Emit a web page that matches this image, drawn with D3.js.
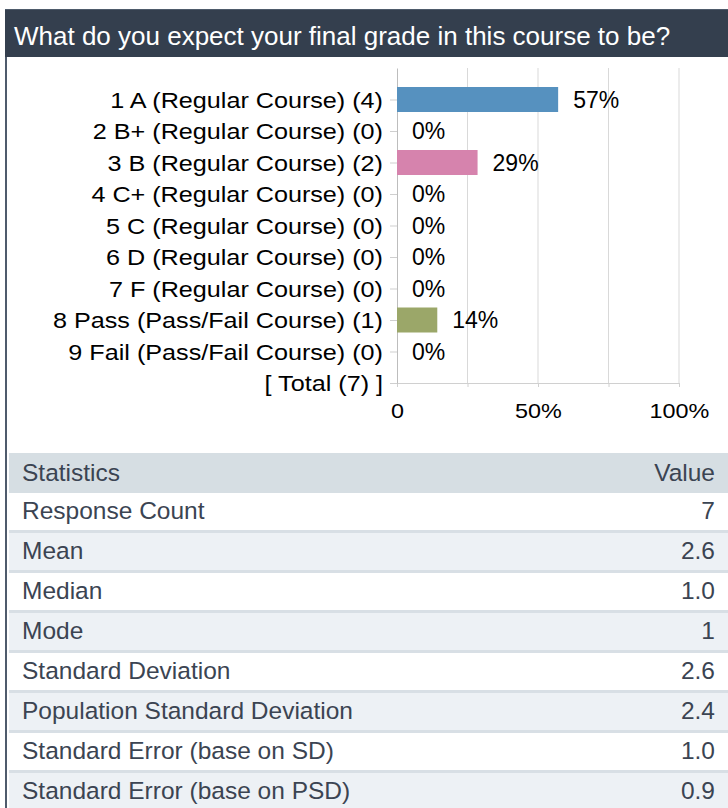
<!DOCTYPE html>
<html>
<head>
<meta charset="utf-8">
<script src="https://d3js.org/d3.v7.min.js"></script>
<style>
  body { margin: 0; background: #fff; }
  svg text { font-family: "Liberation Sans", Arial, sans-serif; }
</style>
</head>
<body>
<svg id="chart" width="728" height="808"></svg>
<script>
  var title = "What do you expect your final grade in this course to be?";

  var categories = [
    "1 A (Regular Course) (4)",
    "2 B+ (Regular Course) (0)",
    "3 B (Regular Course) (2)",
    "4 C+ (Regular Course) (0)",
    "5 C (Regular Course) (0)",
    "6 D (Regular Course) (0)",
    "7 F (Regular Course) (0)",
    "8 Pass (Pass/Fail Course) (1)",
    "9 Fail (Pass/Fail Course) (0)"
  ];
  var counts = [4, 0, 2, 0, 0, 0, 0, 1, 0];
  var totalLabel = "[ Total (7) ]";
  var barColors = ["#5691bf", "#e8a45c", "#d683ad", "#8c7bb8", "#6fb59a", "#c96b5e", "#c9b458", "#9ba769", "#7f8c99"];

  var gridValues = [0, 0.25, 0.5, 0.75, 1];
  var tickLabels = {0: "0", 0.5: "50%", 1: "100%"};

  var statNames = ["Response Count", "Mean", "Median", "Mode", "Standard Deviation",
    "Population Standard Deviation", "Standard Error (base on SD)", "Standard Error (base on PSD)"];
  var statValues = ["7", "2.6", "1.0", "1", "2.6", "2.4", "1.0", "0.9"];

  var svg = d3.select("#chart");
  var total = d3.sum(counts);

  // header band
  svg.append("rect").attr("x", 5).attr("y", 9).attr("width", 723).attr("height", 1).attr("fill", "#4e5b6b");
  svg.append("rect").attr("x", 5).attr("y", 10).attr("width", 723).attr("height", 47).attr("fill", "#343f4e");
  svg.append("text").attr("x", 14).attr("y", 45)
    .attr("fill", "#fff").style("font-size", "26px")
    .text(title);

  // left border
  svg.append("rect").attr("x", 5).attr("y", 57).attr("width", 2).attr("height", 751).attr("fill", "#4f5b6c");

  // scales
  var x = d3.scaleLinear().domain([0, 1]).range([397, 679]);
  var y = d3.scalePoint()
    .domain([""].concat(categories, [totalLabel]))
    .range([68, 383]);

  // gridlines
  svg.append("g").selectAll("line")
    .data(gridValues.slice(1))
    .enter().append("line")
    .attr("x1", function(d) { return x(d); })
    .attr("x2", function(d) { return x(d); })
    .attr("y1", 68).attr("y2", 383)
    .attr("stroke", "#d9d9d9");

  // bottom axis
  var xAxis = svg.append("g")
    .attr("transform", "translate(0,383)")
    .call(d3.axisBottom(x).tickValues(gridValues).tickSize(4).tickSizeOuter(0).tickPadding(17)
      .tickFormat(function(d) { return tickLabels[d] || ""; }));
  xAxis.select(".domain").attr("stroke", "#d0d0d0");
  xAxis.selectAll(".tick line").attr("stroke", "#d0d0d0");
  xAxis.selectAll(".tick text")
    .attr("fill", "#000").style("font-size", "20px")
    .attr("transform", "scale(1.17,1)");

  // left axis
  var yAxis = svg.append("g")
    .attr("transform", "translate(397,0)")
    .call(d3.axisLeft(y).tickValues(categories.concat([totalLabel])).tickSize(7).tickSizeOuter(0));
  yAxis.select(".domain").attr("stroke", "#bdbdbd");
  yAxis.selectAll(".tick line").attr("stroke", "#cfcfcf");
  yAxis.selectAll(".tick text")
    .attr("x", 0).attr("dy", "0.35em")
    .attr("fill", "#000").style("font-size", "22px")
    .attr("transform", "translate(-14,0) scale(1.145,1)");

  // bars
  svg.append("g").selectAll("rect")
    .data(categories)
    .enter().append("rect")
    .attr("x", x(0))
    .attr("y", function(d) { return y(d) - 12.5; })
    .attr("width", function(d, i) { return x(counts[i] / total) - x(0); })
    .attr("height", 25)
    .attr("fill", function(d, i) { return barColors[i]; });

  // value labels
  svg.append("g").selectAll("text")
    .data(categories)
    .enter().append("text")
    .attr("x", function(d, i) { return x(counts[i] / total) + 15; })
    .attr("y", function(d) { return y(d); })
    .attr("dy", "0.35em")
    .style("font-size", "23px")
    .attr("fill", "#000")
    .text(function(d, i) { return Math.round(counts[i] / total * 100) + "%"; });

  // statistics table
  var tableTop = 453;
  var table = svg.append("g").style("font-size", "24.5px").attr("fill", "#3b4452");
  table.append("rect").attr("x", 9).attr("y", tableTop).attr("width", 719).attr("height", 40).attr("fill", "#d6dee3");
  table.append("text").attr("x", 22).attr("y", tableTop + 28).text("Statistics");
  table.append("text").attr("x", 715).attr("y", tableTop + 28).attr("text-anchor", "end").text("Value");

  var rows = table.selectAll("g.row")
    .data(statNames)
    .enter().append("g")
    .attr("class", "row")
    .attr("transform", function(d, i) { return "translate(0," + (tableTop + 40 + i * 40) + ")"; });
  rows.append("rect").attr("x", 9).attr("width", 719).attr("height", 37)
    .attr("fill", function(d, i) { return i % 2 ? "#edf1f5" : "#ffffff"; });
  rows.append("rect").attr("x", 9).attr("y", 37).attr("width", 719).attr("height", 3).attr("fill", "#d8dfe5");
  rows.append("text").attr("x", 22).attr("y", 26).text(function(d) { return d; });
  rows.append("text").attr("x", 715).attr("y", 26).attr("text-anchor", "end")
    .text(function(d, i) { return statValues[i]; });
</script>
</body>
</html>
